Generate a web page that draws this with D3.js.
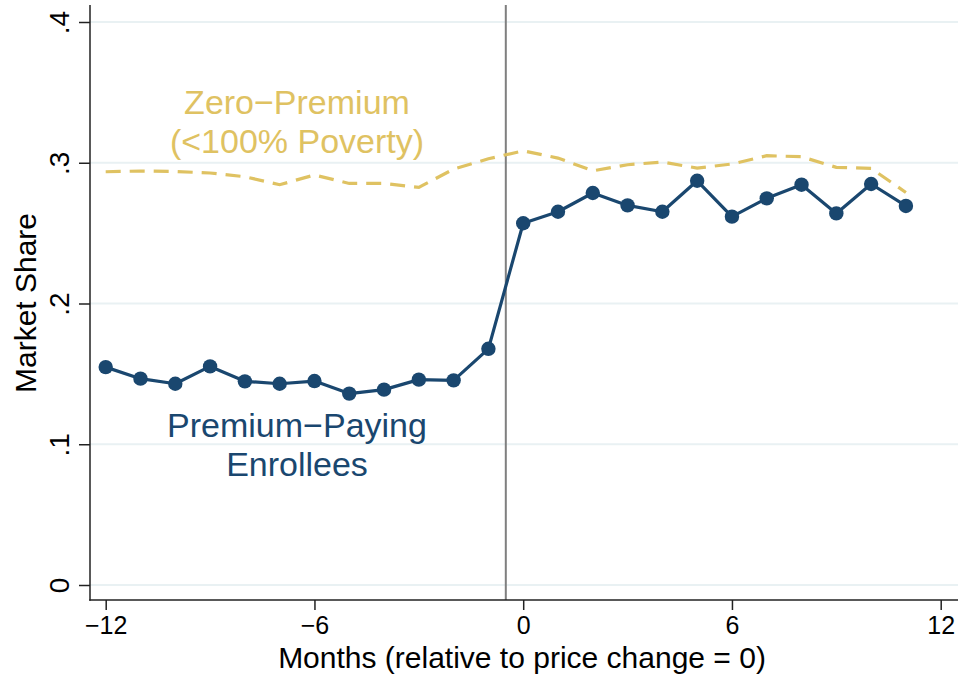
<!DOCTYPE html>
<html>
<head>
<meta charset="utf-8">
<script src="https://cdn.jsdelivr.net/npm/d3@7"></script>
<style>
  html, body { margin: 0; padding: 0; background: #ffffff; }
  svg { display: block; font-family: "Liberation Sans", Arial, Helvetica, sans-serif; }
</style>
</head>
<body>
<svg id="chart" width="958" height="674"></svg>
<script>
// ---- data ----
const months = [-12,-11,-10,-9,-8,-7,-6,-5,-4,-3,-2,-1,0,1,2,3,4,5,6,7,8,9,10,11];
const premiumPaying = [0.1548,0.1466,0.1430,0.1553,0.1447,0.1430,0.1449,0.1360,0.1388,0.1459,0.1454,0.1678,
                       0.2570,0.2652,0.2785,0.2697,0.2652,0.2872,0.2617,0.2747,0.2844,0.2640,0.2849,0.2693];
const zeroPremium = [0.2936,0.2941,0.2938,0.2927,0.2901,0.2844,0.2913,0.2853,0.2853,0.2825,0.2955,0.3028,
                     0.3085,0.3033,0.2943,0.2986,0.3005,0.2962,0.2991,0.3050,0.3043,0.2967,0.2960,0.2789];
const xTicks = [-12, -6, 0, 6, 12];
const xTickLabels = ["\u221212", "\u22126", "0", "6", "12"];
const yTicks = [0, 0.1, 0.2, 0.3, 0.4];
const yTickLabels = ["0", ".1", ".2", ".3", ".4"];
const eventMonth = -0.5;
const zeroLabel = ["Zero\u2212Premium", "(<100% Poverty)"];
const payLabel = ["Premium\u2212Paying", "Enrollees"];
const xTitle = "Months (relative to price change = 0)";
const yTitle = "Market Share";

// ---- styles ----
const navy = "#1a476f";
const gold = "#dfc262";
const gridColor = "#e9f1f3";
const axisColor = "#222222";

const svg = d3.select("#chart");
const W = 958, H = 674;
const axisX = 90, axisY = 600, plotTop = 5;

const x = d3.scaleLinear().domain([-12, 12]).range([105.7, 940.7]);
const y = d3.scaleLinear().domain([0, 0.4]).range([585, 22]);

// gridlines
svg.append("g").selectAll("line").data(yTicks).join("line")
  .attr("x1", axisX).attr("x2", W)
  .attr("y1", d => y(d)).attr("y2", d => y(d))
  .attr("stroke", gridColor).attr("stroke-width", 2);

// vertical event line
svg.append("line")
  .attr("x1", x(eventMonth)).attr("x2", x(eventMonth))
  .attr("y1", plotTop).attr("y2", axisY)
  .attr("stroke", "#7f7f7f").attr("stroke-width", 2);

// axes
const xAxis = d3.axisBottom(x).tickValues(xTicks)
  .tickFormat((d, i) => xTickLabels[i]).tickSize(10).tickPadding(6);
const gx = svg.append("g").attr("transform", `translate(0,${axisY})`).call(xAxis);
gx.select(".domain").remove();
gx.selectAll(".tick line").attr("stroke", axisColor).attr("stroke-width", 1.5);
gx.selectAll(".tick text").attr("font-size", 25).attr("fill", "#000")
  .attr("font-family", "'Liberation Sans', Arial, sans-serif");

const yAxis = d3.axisLeft(y).tickValues(yTicks)
  .tickFormat((d, i) => yTickLabels[i]).tickSize(11).tickPadding(0);
const gy = svg.append("g").attr("transform", `translate(${axisX},0)`).call(yAxis);
gy.select(".domain").remove();
gy.selectAll(".tick line").attr("stroke", axisColor).attr("stroke-width", 1.5);
gy.selectAll(".tick text")
  .attr("font-size", 28).attr("fill", "#000")
  .attr("font-family", "'Liberation Sans', Arial, sans-serif")
  .attr("text-anchor", "middle").attr("dy", null)
  .attr("x", null)
  .attr("transform", "translate(-21,0) rotate(-90)");

// axis lines
svg.append("line").attr("x1", axisX).attr("x2", axisX).attr("y1", plotTop).attr("y2", axisY + 0.75)
  .attr("stroke", axisColor).attr("stroke-width", 1.5);
svg.append("line").attr("x1", axisX - 0.75).attr("x2", W).attr("y1", axisY).attr("y2", axisY)
  .attr("stroke", axisColor).attr("stroke-width", 1.5);

// zero-premium dashed line
const line = d3.line().x((d, i) => x(months[i])).y(d => y(d));
svg.append("path").datum(zeroPremium)
  .attr("d", line).attr("fill", "none")
  .attr("stroke", gold).attr("stroke-width", 3.2)
  .attr("stroke-dasharray", "15,9");

// premium-paying line + markers
svg.append("path").datum(premiumPaying)
  .attr("d", line).attr("fill", "none")
  .attr("stroke", navy).attr("stroke-width", 3.2).attr("stroke-linejoin", "round");
svg.append("g").selectAll("circle").data(premiumPaying).join("circle")
  .attr("cx", (d, i) => x(months[i])).attr("cy", d => y(d))
  .attr("r", 7.2).attr("fill", navy);

// annotations (one text element per label, lines as tspans)
const ann = (lines, color, baseline) => {
  svg.append("text")
    .attr("x", 297).attr("y", baseline)
    .attr("text-anchor", "middle").attr("font-size", 34)
    .attr("fill", color)
    .selectAll("tspan").data(lines).join("tspan")
    .attr("x", 297).attr("dy", (d, i) => i === 0 ? 0 : 38.5)
    .text(d => d);
};
ann(zeroLabel, gold, 114);
ann(payLabel, navy, 437);

// axis titles
svg.append("text").attr("x", 522).attr("y", 668)
  .attr("text-anchor", "middle").attr("font-size", 30).attr("fill", "#000")
  .text(xTitle);
svg.append("text")
  .attr("transform", "translate(36,303) rotate(-90)")
  .attr("text-anchor", "middle").attr("font-size", 30).attr("fill", "#000")
  .text(yTitle);
</script>
</body>
</html>
